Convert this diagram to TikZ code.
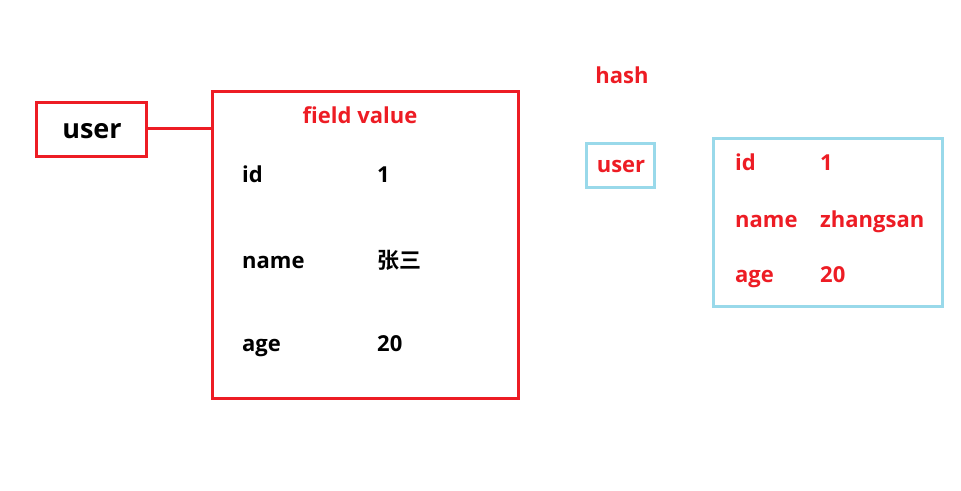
\documentclass[tikz,border=0pt]{standalone}
\usepackage{fontspec}
\setmainfont{Open Sans}
\newfontfamily\cjk{Noto Sans CJK SC}[BoldFont={* Bold}]
\definecolor{myred}{HTML}{ED1C24}
\definecolor{myblue}{HTML}{99D9EA}
\begin{document}
\begin{tikzpicture}[x=1pt,y=-1pt,
  redbox/.style={draw=myred,line width=3pt},
  bluebox/.style={draw=myblue,line width=3pt},
  txt/.style={anchor=base west,inner sep=0pt,font=\fontsize{22}{26}\selectfont\bfseries},
  rtxt/.style={txt,text=myred}]
\useasboundingbox (0,0) rectangle (961,490);
% left
\draw[redbox] (36,102) rectangle (146,156);
\node[inner sep=0pt,font=\fontsize{27}{30}\selectfont\bfseries,anchor=base] (u1) at (92,138) {user};
\coordinate (ub) at (146,128);
\draw[redbox] (212,91) rectangle (518,398);
\coordinate (bb) at (212,128);
\draw[myred,line width=3pt] (ub) -- (bb);
\node[rtxt,anchor=base] (fv) at (360,123) {field value};
\node[txt] (k1) at (242,182) {id};
\node[txt] (v1) at (377,182) {1};
\node[txt] (k2) at (242,268) {name};
\node[txt] (v2) at (377,268) {\cjk\bfseries 张三};
\node[txt] (k3) at (242,351) {age};
\node[txt] (v3) at (377,351) {20};
% right
\node[rtxt,anchor=base] (hash) at (622,83) {hash};
\draw[bluebox] (586,143) rectangle (654,187);
\node[rtxt,anchor=base] (u2) at (621,172) {user};
\draw[bluebox] (713,138) rectangle (942,306);
\node[rtxt] (r1) at (735,170) {id};
\node[rtxt] (s1) at (820,170) {1};
\node[rtxt] (r2) at (735,227) {name};
\node[rtxt] (s2) at (820,227) {zhangsan};
\node[rtxt] (r3) at (735,282) {age};
\node[rtxt] (s3) at (820,282) {20};
\end{tikzpicture}
\end{document}
